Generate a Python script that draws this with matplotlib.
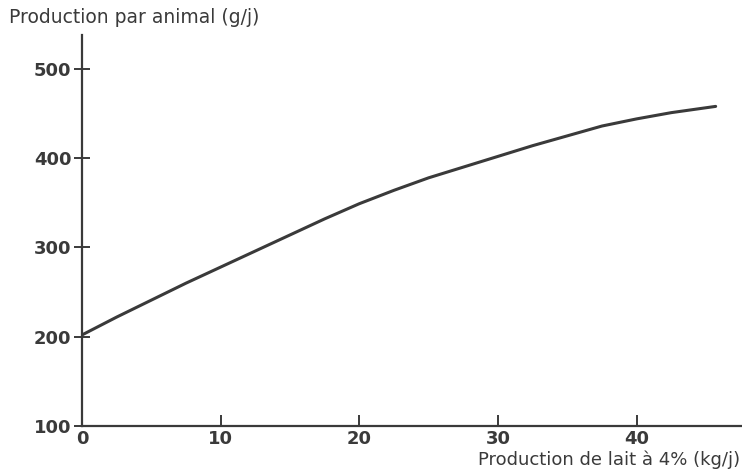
import matplotlib
matplotlib.use('Agg')
import matplotlib.pyplot as plt

# Values
milk_kg = [0, 2.5, 5, 7.5, 10, 12.5, 15, 17.5, 20, 22.5, 25, 27.5,
           30, 32.5, 35, 37.5, 40, 42.5, 45.7]
prod_g = [202, 222, 241, 260, 278, 296, 314, 332, 349, 364, 378, 390,
          402, 414, 425, 436, 444, 451, 458]

x_ticks = [0, 10, 20, 30, 40]
y_ticks = [100, 200, 300, 400, 500]

ink = '#3a3a3a'

fig = plt.figure(figsize=(7.42, 4.70), dpi=100)
ax = fig.add_axes([0.1105, 0.0936, 0.8895, 0.832])

ax.plot(milk_kg, prod_g, color=ink, linewidth=2.2, solid_capstyle='round')

ax.set_xlim(0, 47.6)
ax.set_ylim(100, 538)
ax.spines['top'].set_visible(False)
ax.spines['right'].set_visible(False)
for side in ('left', 'bottom'):
    ax.spines[side].set_color(ink)
    ax.spines[side].set_linewidth(1.6)

ax.set_xticks(x_ticks)
ax.set_yticks(y_ticks)
ax.tick_params(width=1.4, color=ink, labelsize=13, labelcolor=ink)
ax.tick_params(axis='x', direction='in', length=8, pad=3)
ax.tick_params(axis='y', direction='inout', length=11, pad=2)
for lab in ax.get_xticklabels() + ax.get_yticklabels():
    lab.set_fontweight('bold')
    lab.set_family('DejaVu Sans')

fig.text(0.012, 0.962, 'Production par animal (g/j)', fontsize=13.5,
         family='DejaVu Sans', color=ink, ha='left', va='center')
fig.text(0.997, 0.002, 'Production de lait à 4% (kg/j)', fontsize=13,
         family='DejaVu Sans', color=ink, ha='right', va='bottom')

fig.savefig('out.png', dpi=100)
